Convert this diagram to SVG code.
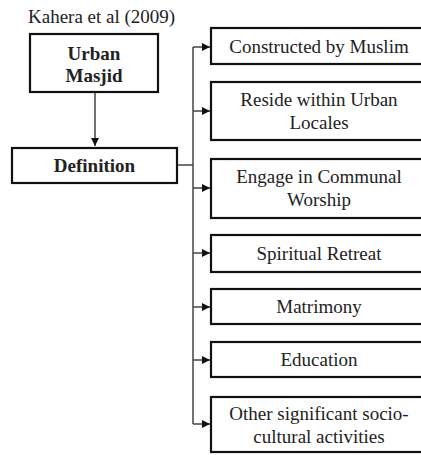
<svg xmlns="http://www.w3.org/2000/svg" width="421" height="455" viewBox="0 0 421 455">
<style>
.box{fill:#fff;stroke:#111;stroke-width:2.2}
.t{font-family:"Liberation Serif","Times New Roman",serif;font-size:19px;fill:#222;text-anchor:middle}
.b{font-weight:bold}
.c{fill:none;stroke:#444;stroke-width:1.5}
</style>
<defs>
<marker id="ah" viewBox="0 0 10 10" refX="10" refY="5" markerWidth="8" markerHeight="8" markerUnits="userSpaceOnUse" orient="auto"><path d="M0,0 L10,5 L0,10 z" fill="#111"/></marker>
</defs>
<text class="t" x="28" y="23" style="text-anchor:start">Kahera et al (2009)</text>
<g id="connectors">
<line class="c" x1="95" y1="92" x2="95" y2="146" marker-end="url(#ah)"/>
<polyline class="c" points="177,165 193,165"/>
<line class="c" x1="193" y1="47" x2="193" y2="424"/>
<line class="c" x1="193" y1="47" x2="210" y2="47" marker-end="url(#ah)"/>
<line class="c" x1="193" y1="111" x2="210" y2="111" marker-end="url(#ah)"/>
<line class="c" x1="193" y1="188" x2="210" y2="188" marker-end="url(#ah)"/>
<line class="c" x1="193" y1="253" x2="210" y2="253" marker-end="url(#ah)"/>
<line class="c" x1="193" y1="307" x2="210" y2="307" marker-end="url(#ah)"/>
<line class="c" x1="193" y1="360" x2="210" y2="360" marker-end="url(#ah)"/>
<line class="c" x1="193" y1="424" x2="210" y2="424" marker-end="url(#ah)"/>
</g>
<g id="urban"><rect class="box" x="30" y="34" width="128" height="58"/><text class="t b" x="94" y="60">Urban</text><text class="t b" x="94" y="82">Masjid</text></g>
<g id="definition"><rect class="box" x="12" y="148" width="165" height="35"/><text class="t b" x="94.5" y="172">Definition</text></g>
<g id="n1"><rect class="box" x="211" y="28" width="215" height="36"/><text class="t" x="319" y="53">Constructed by Muslim</text></g>
<g id="n2"><rect class="box" x="211" y="82" width="215" height="58"/><text class="t" x="319" y="106">Reside within Urban</text><text class="t" x="319" y="129">Locales</text></g>
<g id="n3"><rect class="box" x="211" y="159" width="215" height="59"/><text class="t" x="319" y="183">Engage in Communal</text><text class="t" x="319" y="206">Worship</text></g>
<g id="n4"><rect class="box" x="211" y="235" width="215" height="37"/><text class="t" x="319" y="260">Spiritual Retreat</text></g>
<g id="n5"><rect class="box" x="211" y="289" width="215" height="35"/><text class="t" x="319" y="313">Matrimony</text></g>
<g id="n6"><rect class="box" x="211" y="342" width="215" height="35"/><text class="t" x="319" y="366">Education</text></g>
<g id="n7"><rect class="box" x="211" y="397" width="215" height="55"/><text class="t" x="319" y="420">Other significant socio-</text><text class="t" x="319" y="443">cultural activities</text></g>
</svg>
